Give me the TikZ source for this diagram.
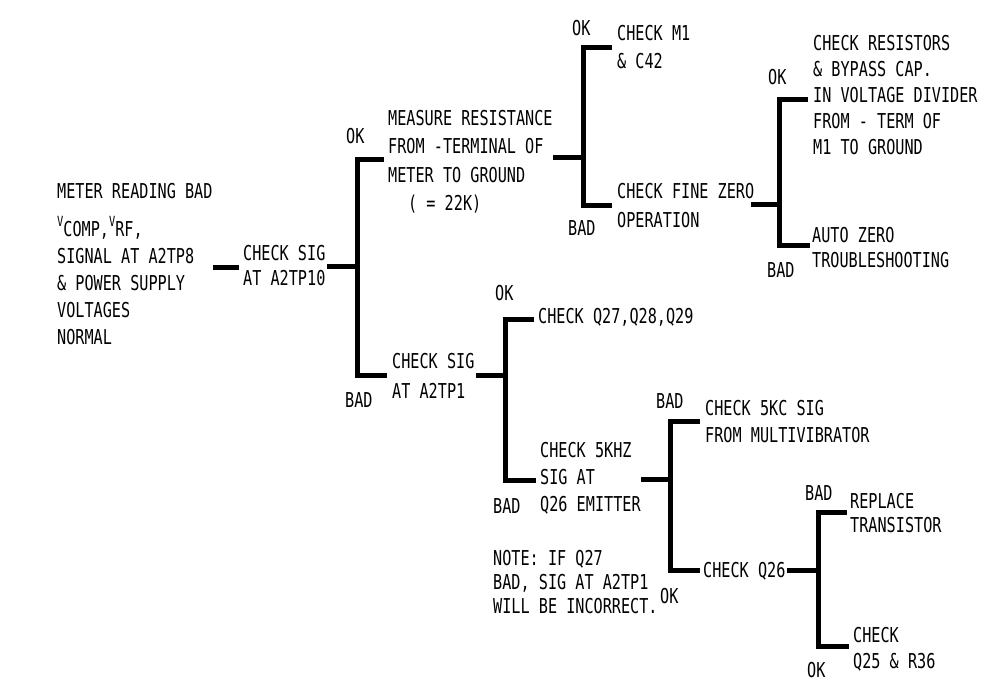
\documentclass[tikz,border=0pt]{standalone}
\usepackage{fontspec}
\newfontfamily\pf[FakeStretch=0.74]{DejaVu Sans Mono}
\newcommand\tl[2]{{\pf\fontsize{20.5}{#1}\selectfont\begin{tabular}[t]{@{}l@{}}#2\end{tabular}}}
\newcommand\lb[1]{{\pf\fontsize{20.5}{20}\selectfont #1}}
\newcommand\smv{\raisebox{10pt}{\fontsize{14}{14}\selectfont V}}
\begin{document}
\begin{tikzpicture}[x=1pt,y=-1pt,
  conn/.style={line width=5pt, line join=miter},
  txt/.style={inner sep=0pt, anchor=base west}]
\useasboundingbox (0,0) rectangle (993,680);
% text nodes
\node[txt] (root) at (57,198) {\tl{27}{METER READING BAD\\[10pt] \smv COMP,\smv RF,\\ SIGNAL AT A2TP8\\ \& POWER SUPPLY\\ VOLTAGES\\ NORMAL}};
\node[txt] (n1) at (243,260) {\tl{25}{CHECK SIG\\ AT A2TP10}};
\node[txt] (n2) at (388,125) {\tl{28.5}{MEASURE RESISTANCE\\ FROM -TERMINAL OF\\ METER TO GROUND\\ \hspace*{20pt}( = 22K)}};
\node[txt] (n3) at (617,40) {\tl{28}{CHECK M1\\ \& C42}};
\node[txt] (n4) at (617,198) {\tl{29}{CHECK FINE ZERO\\ OPERATION}};
\node[txt] (n5) at (813,50) {\tl{26}{CHECK RESISTORS\\ \& BYPASS CAP.\\ IN VOLTAGE DIVIDER\\ FROM - TERM OF\\ M1 TO GROUND}};
\node[txt] (n6) at (812,242) {\tl{25}{AUTO ZERO\\ TROUBLESHOOTING}};
\node[txt] (n7) at (392,368) {\tl{30}{CHECK SIG\\ AT A2TP1}};
\node[txt] (n8) at (538,323) {\lb{CHECK Q27,Q28,Q29}};
\node[txt] (n9) at (540,457) {\tl{27}{CHECK 5KHZ\\ SIG AT\\ Q26 EMITTER}};
\node[txt] (n10) at (705,415) {\tl{27}{CHECK 5KC SIG\\ FROM MULTIVIBRATOR}};
\node[txt] (n11) at (703,577) {\lb{CHECK Q26}};
\node[txt] (n12) at (850,508) {\tl{24}{REPLACE\\ TRANSISTOR}};
\node[txt] (n13) at (853,642) {\tl{26}{CHECK\\ Q25 \& R36}};
\node[txt] (note) at (493,565) {\tl{24}{NOTE: IF Q27\\ BAD, SIG AT A2TP1\\ WILL BE INCORRECT.}};
% labels
\node[txt] (ok1) at (346,143) {\lb{OK}};
\node[txt] (bad1) at (345,407) {\lb{BAD}};
\node[txt] (ok2) at (572,35) {\lb{OK}};
\node[txt] (bad2) at (568,235) {\lb{BAD}};
\node[txt] (ok3) at (768,84) {\lb{OK}};
\node[txt] (bad3) at (767,277) {\lb{BAD}};
\node[txt] (ok4) at (495,300) {\lb{OK}};
\node[txt] (bad4) at (493,513) {\lb{BAD}};
\node[txt] (bad5) at (656,408) {\lb{BAD}};
\node[txt] (ok5) at (660,603) {\lb{OK}};
\node[txt] (bad6) at (805,500) {\lb{BAD}};
\node[txt] (ok6) at (807,677) {\lb{OK}};
% connector coordinates
\coordinate (r0a) at (213,267); \coordinate (r0b) at (239,267);
\coordinate (b1a) at (327,266); \coordinate (b1j) at (357,266);
\coordinate (b1t) at (357,159); \coordinate (b1te) at (384,159);
\coordinate (b1b) at (357,375); \coordinate (b1be) at (387,375);
\coordinate (b2a) at (553,157); \coordinate (b2j) at (583,157);
\coordinate (b2t) at (583,47); \coordinate (b2te) at (612,47);
\coordinate (b2b) at (583,205); \coordinate (b2be) at (612,205);
\coordinate (b3a) at (751,204); \coordinate (b3j) at (779,204);
\coordinate (b3t) at (779,99); \coordinate (b3te) at (808,99);
\coordinate (b3b) at (779,245); \coordinate (b3be) at (810,245);
\coordinate (b4a) at (476,375); \coordinate (b4j) at (505,375);
\coordinate (b4t) at (505,319); \coordinate (b4te) at (534,319);
\coordinate (b4b) at (505,480); \coordinate (b4be) at (536,480);
\coordinate (b5a) at (641,479); \coordinate (b5j) at (670,479);
\coordinate (b5t) at (670,421); \coordinate (b5te) at (700,421);
\coordinate (b5b) at (670,570); \coordinate (b5be) at (700,570);
\coordinate (b6a) at (787,570); \coordinate (b6j) at (818,570);
\coordinate (b6t) at (818,512); \coordinate (b6te) at (847,512);
\coordinate (b6b) at (818,646); \coordinate (b6be) at (849,646);
% connectors
\draw[conn] (r0a) -- (r0b);
\foreach \k in {b1,b2,b3,b4,b5,b6}{
  \draw[conn] (\k a) -- (\k j);
  \draw[conn] (\k te) -- (\k t) -- (\k b) -- (\k be);
}
\end{tikzpicture}
\end{document}
